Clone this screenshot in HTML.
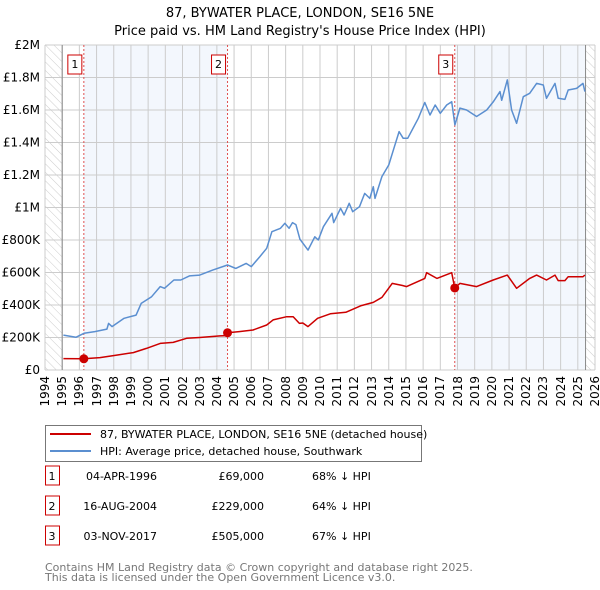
<!DOCTYPE html>
<html><head><meta charset="utf-8">
<style>
body{margin:0;background:#fff;font-family:"DejaVu Sans","Liberation Sans",sans-serif;}
#wrap{position:relative;width:600px;height:590px;overflow:hidden}
svg{display:block;position:absolute;left:0;top:0}
.xl{position:absolute;top:376px;width:14px;font-size:12px;line-height:14px;writing-mode:vertical-rl;transform:rotate(180deg);white-space:nowrap;color:#000}
</style></head>
<body>
<div id="wrap">
<svg id="c" width="600" height="590" xmlns="http://www.w3.org/2000/svg">
<defs>
<pattern id="hatch" width="6" height="6" patternUnits="userSpaceOnUse" patternTransform="rotate(-45)">
<line x1="0" y1="0" x2="0" y2="6" stroke="#ccc" stroke-width="1"/>
</pattern>
</defs>
<text x="300" y="17" text-anchor="middle" font-size="13">87, BYWATER PLACE, LONDON, SE16 5NE</text>
<text x="300" y="35" text-anchor="middle" font-size="13">Price paid vs. HM Land Registry's House Price Index (HPI)</text>
<g id="plot"></g>
<g>
<rect x="45.5" y="425.5" width="376" height="36" fill="#fff" stroke="#777"/>
<line x1="50" y1="434" x2="91" y2="434" stroke="#cc0000" stroke-width="2"/>
<text x="100" y="438" font-size="11">87, BYWATER PLACE, LONDON, SE16 5NE (detached house)</text>
<line x1="50" y1="451" x2="91" y2="451" stroke="#5b8fd0" stroke-width="2"/>
<text x="100" y="455" font-size="11">HPI: Average price, detached house, Southwark</text>
</g>
<g id="table" font-size="11"></g>
<text x="45" y="571" font-size="11" fill="#777">Contains HM Land Registry data © Crown copyright and database right 2025.</text>
<text x="45" y="581" font-size="11" fill="#777">This data is licensed under the Open Government Licence v3.0.</text>
</svg>
</div>
<script>
const hpiYears=[1995.07,1995.8,1996.27,1996.9,1997.6,1997.7,1997.9,1998.6,1999.3,1999.6,2000.2,2000.7,2000.95,2001.5,2001.9,2002.4,2003.0,2003.76,2004.62,2005.1,2005.7,2006.0,2006.5,2006.9,2007.2,2007.7,2007.96,2008.2,2008.4,2008.6,2008.83,2009.3,2009.7,2009.9,2010.2,2010.7,2010.8,2011.2,2011.4,2011.7,2011.9,2012.3,2012.6,2012.9,2013.1,2013.2,2013.6,2014.0,2014.3,2014.6,2014.84,2015.1,2015.72,2016.1,2016.4,2016.7,2017.0,2017.37,2017.66,2017.85,2018.14,2018.53,2019.11,2019.7,2020.08,2020.47,2020.57,2020.9,2021.15,2021.44,2021.83,2022.2,2022.6,2022.99,2023.18,2023.67,2023.86,2024.25,2024.44,2024.93,2025.3,2025.41];
const hpiValues=[215,201,226,236,252,287,267,318,338,410,451,513,503,554,554,579,584,615,646,625,656,636,697,749,851,872,903,872,907,895,805,738,820,800,882,964,907,995,954,1026,974,1005,1087,1056,1128,1056,1190,1262,1364,1467,1426,1426,1549,1646,1569,1631,1580,1631,1651,1508,1612,1600,1560,1600,1650,1713,1660,1785,1600,1518,1682,1703,1764,1754,1672,1764,1672,1665,1723,1733,1764,1713];
const priceYears=[1995.07,1996.26,1997.2,1998.17,1999.14,1999.9,2000.7,2001.46,2002.24,2003.0,2004.18,2004.6,2004.62,2005.3,2006.1,2006.9,2007.27,2008.06,2008.44,2008.8,2009.0,2009.3,2009.86,2010.6,2011.5,2012.4,2013.1,2013.6,2014.2,2014.8,2015.04,2016.1,2016.2,2016.8,2017.66,2017.84,2018.14,2019.11,2020.08,2020.9,2021.44,2022.2,2022.6,2023.18,2023.67,2023.86,2024.25,2024.44,2025.3,2025.41];
const priceValues=[70,69,76,92,107,133,164,170,195,200,210,212,229,236,246,277,308,328,328,287,289,267,318,346,355,396,416,447,533,520,513,564,599,564,599,505,533,513,554,584,503,564,584,554,584,550,550,574,574,584];
const sales=[{n:"1",y:1996.26,v:69,date:"04-APR-1996",price:"£69,000",pct:"68% ↓ HPI"},{n:"2",y:2004.62,v:229,date:"16-AUG-2004",price:"£229,000",pct:"64% ↓ HPI"},{n:"3",y:2017.84,v:505,date:"03-NOV-2017",price:"£505,000",pct:"67% ↓ HPI"}];
const yTicks=[0,200,400,600,800,1000,1200,1400,1600,1800,2000];
const yTickLabels=["£0","£200K","£400K","£600K","£800K","£1M","£1.2M","£1.4M","£1.6M","£1.8M","£2M"];
const xTicks=[1994,1995,1996,1997,1998,1999,2000,2001,2002,2003,2004,2005,2006,2007,2008,2009,2010,2011,2012,2013,2014,2015,2016,2017,2018,2019,2020,2021,2022,2023,2024,2025,2026];

const NS="http://www.w3.org/2000/svg";
const L=45,R=595,T=45,B=370,X0=1994,X1=2026,Y1=2000;
const xs=y=>L+(y-X0)/(X1-X0)*(R-L);
const ys=v=>B-v/Y1*(B-T);
const plot=document.getElementById('plot');
const wrap=document.getElementById('wrap');
function mk(tag,attrs,parent){const e=document.createElementNS(NS,tag);for(const k in attrs)e.setAttribute(k,attrs[k]);(parent||plot).appendChild(e);return e;}
let r=mk('rect',{x:xs(sales[0].y),y:T,width:xs(sales[1].y)-xs(sales[0].y),height:B-T,fill:'#eef3fc',opacity:0.7});


r=mk('rect',{x:xs(sales[2].y),y:T,width:xs(2025.45)-xs(sales[2].y),height:B-T,fill:'#eef3fc',opacity:0.7});


r=mk('rect',{x:L,y:T,width:xs(1995)-L,height:B-T,fill:'url(#hatch)'});


r=mk('rect',{x:xs(2025.45),y:T,width:R-xs(2025.45),height:B-T,fill:'url(#hatch)'});


yTicks.forEach((v,i)=>{
 let g=mk('line',{x1:L,x2:R,y1:ys(v),y2:ys(v),stroke:'#ccc','stroke-width':1});
 
 
 let t=mk('text',{x:40,y:ys(v)+4,'text-anchor':'end','font-size':12});
 t.textContent=yTickLabels[i];
 
 
});
xTicks.forEach(y=>{
 let g=mk('line',{x1:xs(y),x2:xs(y),y1:T,y2:B,stroke:'#ccc','stroke-width':1});
 
 
 const d=document.createElement('div');
 d.className='xl';
 d.style.left=(xs(y)-7).toFixed(1)+'px';
 d.textContent=String(y);
 
 
 wrap.appendChild(d);
});
[1995,2025.45].forEach(y=>{
 let a=mk('line',{x1:xs(y),x2:xs(y),y1:T,y2:B,stroke:'#888','stroke-width':1});
 
 
});
sales.forEach(s=>{
 let d=mk('line',{x1:xs(s.y),x2:xs(s.y),y1:T,y2:B,stroke:'#e05050','stroke-width':1,'stroke-dasharray':'2,2'});
 
 
 let bx=mk('rect',{x:xs(s.y)-16,y:55,width:14,height:19,fill:'#fff',stroke:'#cc0000'});
 
 
 let t=mk('text',{x:xs(s.y)-9,y:68,'text-anchor':'middle','font-size':11});
 t.textContent=s.n;
 
 
});
function path(xa,va,color,name){
 const d=xa.map((x,i)=>(i?'L':'M')+xs(x).toFixed(1)+','+ys(va[i]).toFixed(1)).join('');
 const p=mk('path',{d:d,fill:'none',stroke:color,'stroke-width':1.5,'stroke-linejoin':'round'});
 
 
}
path(hpiYears,hpiValues,'#5b8fd0','hpi-line');
path(priceYears,priceValues,'#cc0000','price-line');
sales.forEach(s=>{
 const c=mk('circle',{cx:xs(s.y),cy:ys(s.v),r:4.5,fill:'#cc0000'});
 
 
});
const tb=document.getElementById('table');
sales.forEach((s,i)=>{
 const y=483+i*30;
 let b=mk('rect',{x:45.5,y:y-17,width:14,height:19,fill:'#fff',stroke:'#cc0000'},tb);
 
 
 let t=mk('text',{x:52,y:y-3,'text-anchor':'middle'},tb);t.textContent=s.n;
 
 
 t=mk('text',{x:157,y:y-3,'text-anchor':'end'},tb);t.textContent=s.date;
 
 
 t=mk('text',{x:264,y:y-3,'text-anchor':'end'},tb);t.textContent=s.price;
 
 
 t=mk('text',{x:312,y:y-3},tb);t.textContent=s.pct;
 
 
});
</script>
</body></html>
